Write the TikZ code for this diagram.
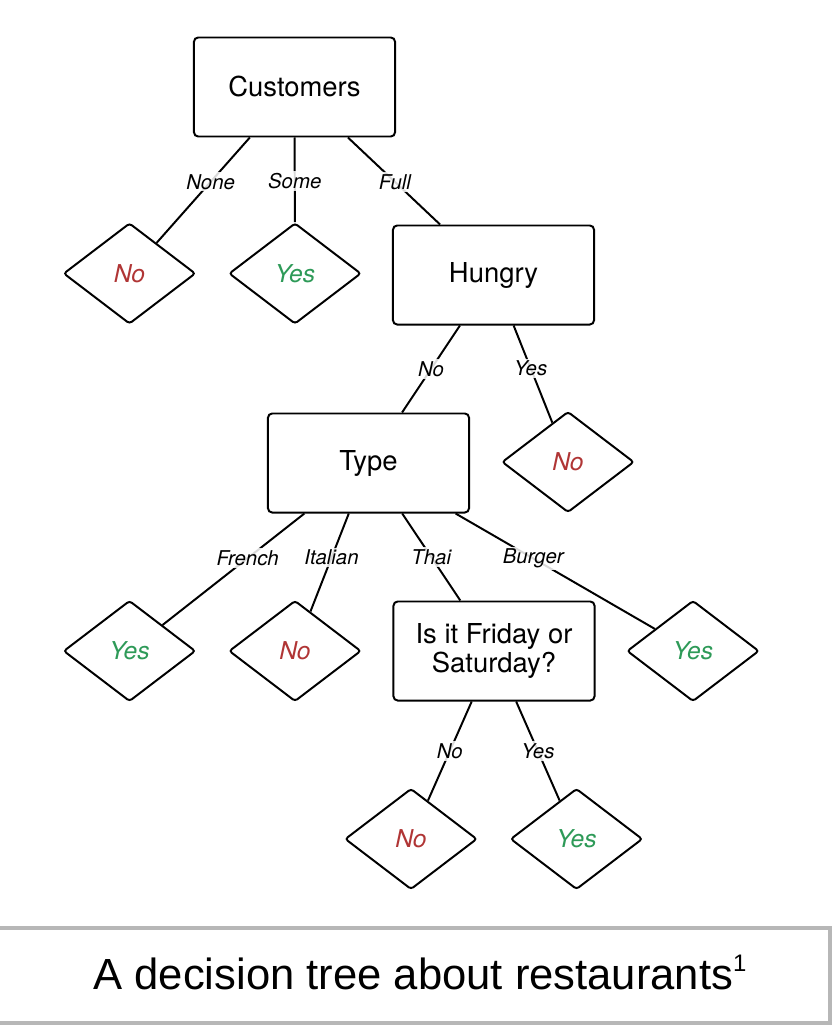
\documentclass[tikz,border=0pt]{standalone}
\usepackage{fontspec}
\setmainfont{TeX Gyre Heros}
\newfontfamily\captionfont{Liberation Sans}
\usetikzlibrary{shapes.geometric}

\definecolor{answerno}{HTML}{B03535}
\definecolor{answeryes}{HTML}{2E9A58}
\definecolor{framegray}{HTML}{B7B7B7}

\begin{document}
\begin{tikzpicture}[x = 0.025cm, y = -0.025cm, line width = 1.4pt,
	test/.style = {draw, rectangle, rounded corners = 3pt, minimum width = 5.025cm,
		minimum height = 2.475cm, align = center, font = \fontsize{19.5}{22}\selectfont},
	leaf/.style = {draw, diamond, rounded corners = 2pt, minimum width = 3.3cm,
		minimum height = 2.52cm, inner sep = 0pt, font = \itshape\fontsize{17.5}{20}\selectfont},
	choice/.style = {fill = white, fill opacity = 0.85, text opacity = 1, inner sep = 1.5pt,
		font = \itshape\fontsize{14.5}{16}\selectfont}]

	% Page size

	\useasboundingbox (0, 0) rectangle (836, 1026);

	% Draw tests

	\node [test] (customers) at (294.5, 87) {Customers};
	\node [test] (hungry) at (493.5, 275) {Hungry};
	\node [test] (type) at (368.5, 463) {Type};
	\node [test] (weekend) at (494, 651) {Is it Friday or\\[-1pt]Saturday?};

	% Draw answers

	\foreach \name/\x/\y/\ans/\col in {noA/129.5/273.5/No/answerno, yesA/295/273.5/Yes/answeryes,
			noB/568/462/No/answerno, yesC/129.5/651/Yes/answeryes, noC/295/651/No/answerno,
			yesD/693/651/Yes/answeryes, noD/411/839/No/answerno, yesE/576.5/839/Yes/answeryes}
		\node [leaf, text = \col] (\name) at (\x, \y) {\ans};

	% Draw branches + labels

	\draw (customers) -- node [choice, pos = 0.42] {None} (noA);
	\draw (customers) -- node [choice, pos = 0.51] {Some} (yesA);
	\draw (customers) -- node [choice, pos = 0.51] {Full} (hungry);

	\draw (hungry) -- node [choice, pos = 0.5] {No} (type);
	\draw (hungry) -- node [choice, pos = 0.44] {Yes} (noB);

	\draw (type) -- node [choice, pos = 0.4] {French} (yesC);
	\draw (type) -- node [choice, pos = 0.45] {Italian} (noC);
	\draw (type) -- node [choice, pos = 0.5] {Thai} (weekend);
	\draw (type) -- node [choice, pos = 0.39] {Burger} (yesD);

	\draw (weekend) -- node [choice, pos = 0.5] {No} (noD);
	\draw (weekend) -- node [choice, pos = 0.5] {Yes} (yesE);

	% Caption

	\draw [line width = 0.1cm, framegray] (-20, 928) rectangle (830, 1023);
	\node [anchor = base, font = \captionfont\fontsize{31}{36}\selectfont] (caption) at (420, 989)
		{A decision tree about restaurants\raisebox{0.4em}{\fontsize{17}{20}\selectfont 1}};

\end{tikzpicture}
\end{document}
